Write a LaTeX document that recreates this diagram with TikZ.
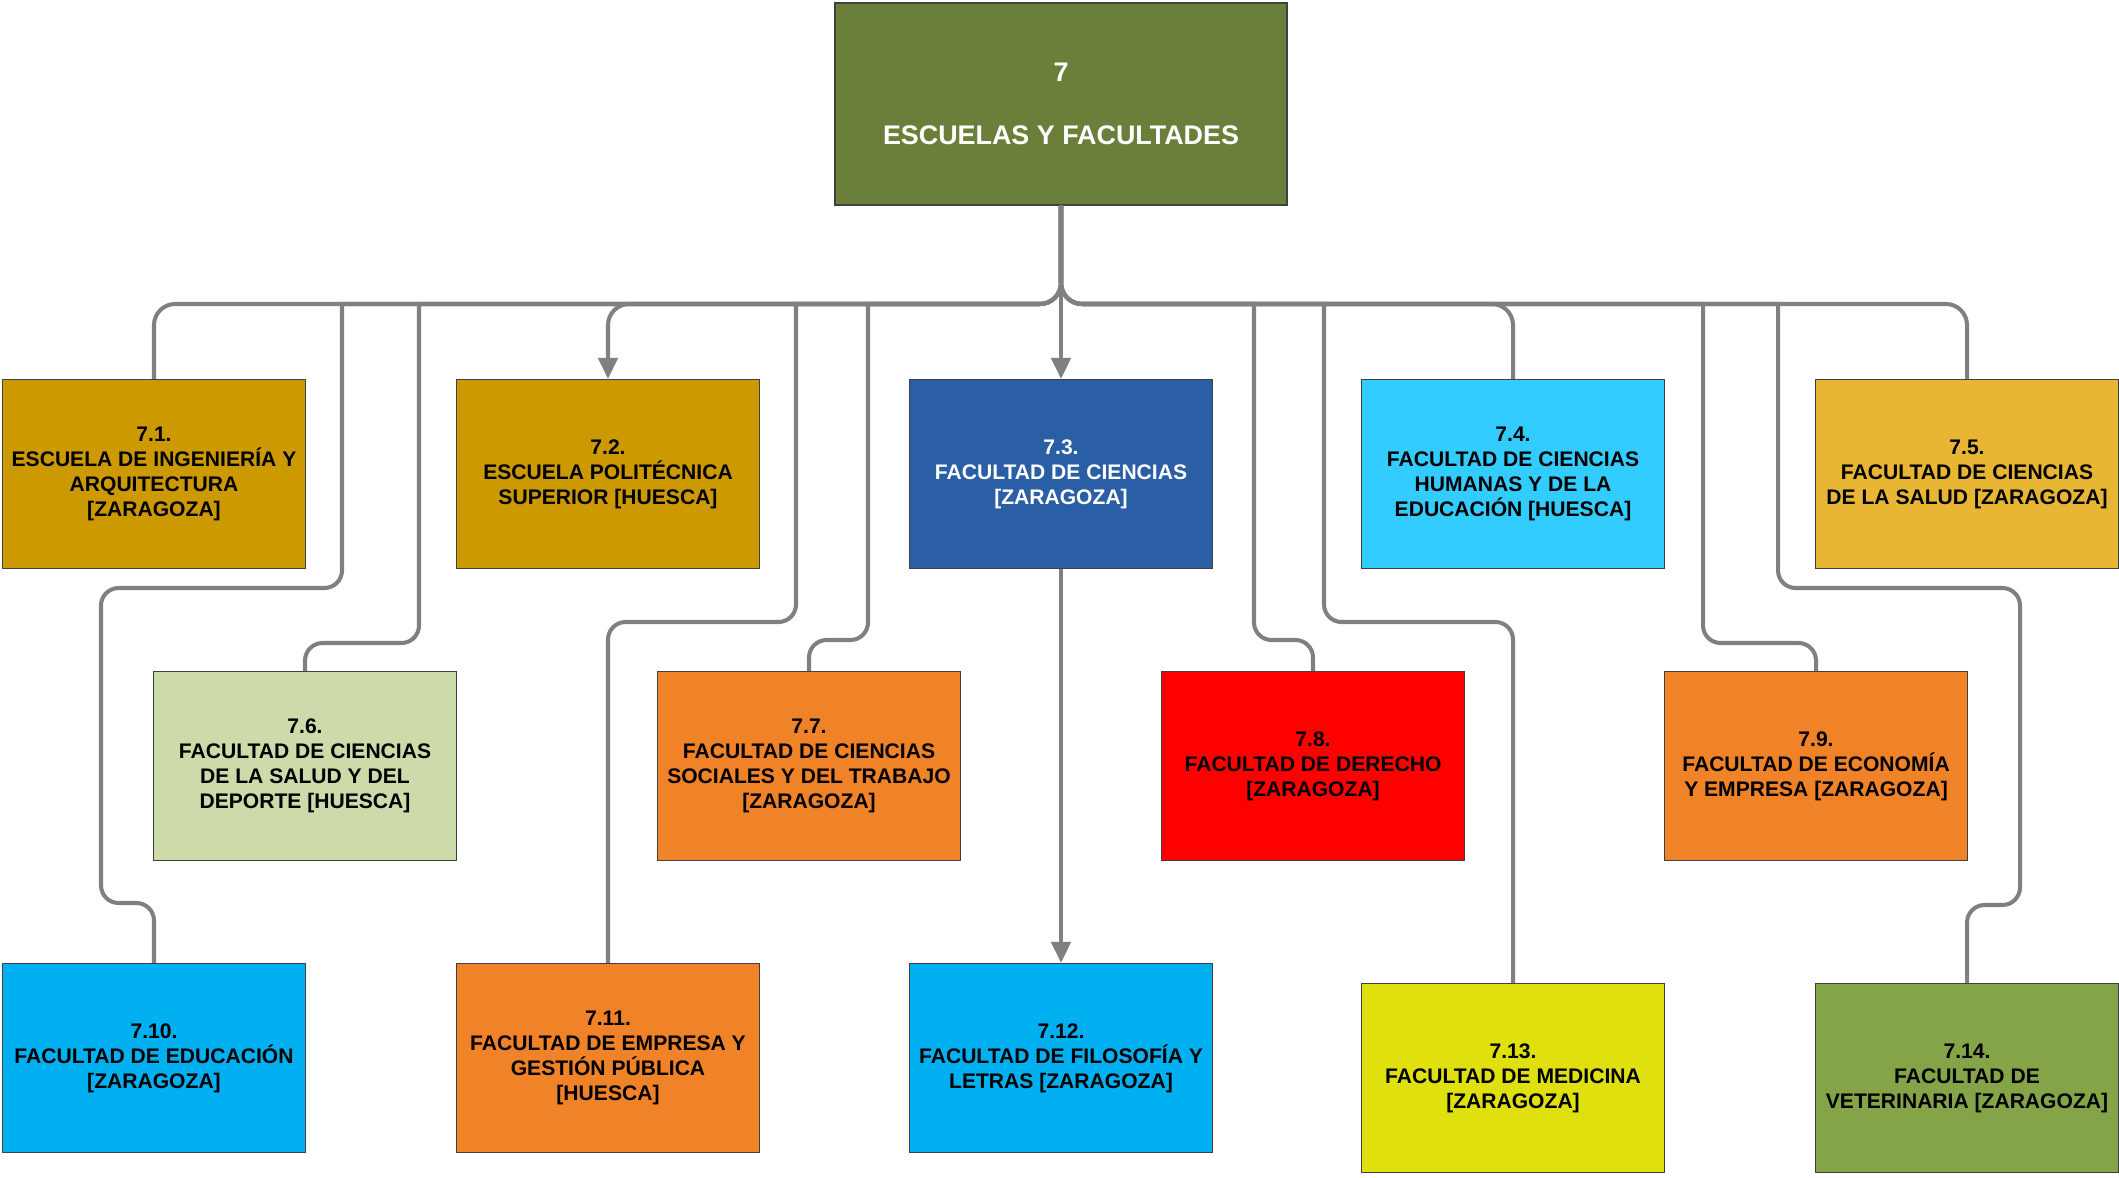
\documentclass[tikz,border=0pt]{standalone}
\usepackage{fontspec}
\setmainfont{Liberation Sans}
\usetikzlibrary{arrows.meta}
\definecolor{rootgreen}{HTML}{6A803A}
\definecolor{gold}{HTML}{CC9900}
\definecolor{darkblue}{HTML}{2A5EA5}
\definecolor{skyblue}{HTML}{33CCFF}
\definecolor{mustard}{HTML}{E9B634}
\definecolor{palegreen}{HTML}{CCDBA9}
\definecolor{orangebox}{HTML}{F08228}
\definecolor{redbox}{HTML}{FF0000}
\definecolor{cyanbox}{HTML}{00B0F0}
\definecolor{yellowbox}{HTML}{E0E00E}
\definecolor{olivebox}{HTML}{84A447}
\definecolor{linegray}{HTML}{808080}
\definecolor{boxline}{HTML}{404040}
\begin{document}
\begin{tikzpicture}[x=0.02cm,y=-0.02cm,
  box/.style={draw=boxline, line width=0.7pt, minimum width=6.06cm, minimum height=3.78cm,
    align=center, inner sep=2pt, font=\fontsize{12}{14.2}\selectfont\bfseries},
  conn/.style={draw=linegray, line width=2.3pt, rounded corners=12pt},
  arr/.style={-{Triangle[length=12pt,width=11pt]}},
]
\useasboundingbox (0,0) rectangle (2119,1177);
\coordinate (bus) at (0,304);

\node[box, fill=rootgreen, text=white, minimum width=9.04cm, minimum height=4.04cm,
  font=\fontsize{15.3}{18}\selectfont\bfseries] (root) at (1061,104) {7\\[18pt]ESCUELAS Y FACULTADES};

\node[box, fill=gold] (n71) at (154,474) {7.1.\\ESCUELA DE INGENIERÍA Y\\ARQUITECTURA\\{}[ZARAGOZA]};
\node[box, fill=gold] (n72) at (608,474) {7.2.\\ESCUELA POLITÉCNICA\\SUPERIOR [HUESCA]};
\node[box, fill=darkblue, text=white] (n73) at (1061,474) {7.3.\\FACULTAD DE CIENCIAS\\{}[ZARAGOZA]};
\node[box, fill=skyblue] (n74) at (1513,474) {7.4.\\FACULTAD DE CIENCIAS\\HUMANAS Y DE LA\\EDUCACIÓN [HUESCA]};
\node[box, fill=mustard] (n75) at (1967,474) {7.5.\\FACULTAD DE CIENCIAS\\DE LA SALUD [ZARAGOZA]};

\node[box, fill=palegreen] (n76) at (305,766) {7.6.\\FACULTAD DE CIENCIAS\\DE LA SALUD Y DEL\\DEPORTE [HUESCA]};
\node[box, fill=orangebox] (n77) at (809,766) {7.7.\\FACULTAD DE CIENCIAS\\SOCIALES Y DEL TRABAJO\\{}[ZARAGOZA]};
\node[box, fill=redbox] (n78) at (1313,766) {7.8.\\FACULTAD DE DERECHO\\{}[ZARAGOZA]};
\node[box, fill=orangebox] (n79) at (1816,766) {7.9.\\FACULTAD DE ECONOMÍA\\Y EMPRESA [ZARAGOZA]};

\node[box, fill=cyanbox] (n710) at (154,1058) {7.10.\\FACULTAD DE EDUCACIÓN\\{}[ZARAGOZA]};
\node[box, fill=orangebox] (n711) at (608,1058) {7.11.\\FACULTAD DE EMPRESA Y\\GESTIÓN PÚBLICA\\{}[HUESCA]};
\node[box, fill=cyanbox] (n712) at (1061,1058) {7.12.\\FACULTAD DE FILOSOFÍA Y\\LETRAS [ZARAGOZA]};
\node[box, fill=yellowbox] (n713) at (1513,1078) {7.13.\\FACULTAD DE MEDICINA\\{}[ZARAGOZA]};
\node[box, fill=olivebox] (n714) at (1967,1078) {7.14.\\FACULTAD DE\\VETERINARIA [ZARAGOZA]};

% direct branches
\draw[conn] (root.south) |- (n71.north |- bus) -- (n71.north);
\draw[conn,arr] (root.south) |- (n72.north |- bus) -- (n72.north);
\draw[conn,arr] (root.south) -- (n73.north);
\draw[conn] (root.south) |- (n74.north |- bus) -- (n74.north);
\draw[conn] (root.south) |- (n75.north |- bus) -- (n75.north);
\draw[conn,arr] (n73.south) -- (n712.north);

% routed branches (sharp T-junction on the bus)
\draw[conn] (root.south) -- (root.south |- bus) [sharp corners] -- (342,304) [rounded corners=10pt]
  -- (342,588) -- (101,588) -- (101,903) -- (n710.north |- 0,903) -- (n710.north);
\draw[conn] (root.south) -- (root.south |- bus) [sharp corners] -- (419,304) [rounded corners=10pt]
  -- (419,643) -- (n76.north |- 0,643) -- (n76.north);
\draw[conn] (root.south) -- (root.south |- bus) [sharp corners] -- (796,304) [rounded corners=10pt]
  -- (796,622) -- (n711.north |- 0,622) -- (n711.north);
\draw[conn] (root.south) -- (root.south |- bus) [sharp corners] -- (868,304) [rounded corners=10pt]
  -- (868,640) -- (n77.north |- 0,640) -- (n77.north);
\draw[conn] (root.south) -- (root.south |- bus) [sharp corners] -- (1254,304) [rounded corners=10pt]
  -- (1254,640) -- (n78.north |- 0,640) -- (n78.north);
\draw[conn] (root.south) -- (root.south |- bus) [sharp corners] -- (1324,304) [rounded corners=10pt]
  -- (1324,622) -- (n713.north |- 0,622) -- (n713.north);
\draw[conn] (root.south) -- (root.south |- bus) [sharp corners] -- (1703,304) [rounded corners=10pt]
  -- (1703,643) -- (n79.north |- 0,643) -- (n79.north);
\draw[conn] (root.south) -- (root.south |- bus) [sharp corners] -- (1778,304) [rounded corners=10pt]
  -- (1778,588) -- (2020,588) -- (2020,905) -- (n714.north |- 0,905) -- (n714.north);
\end{tikzpicture}
\end{document}
